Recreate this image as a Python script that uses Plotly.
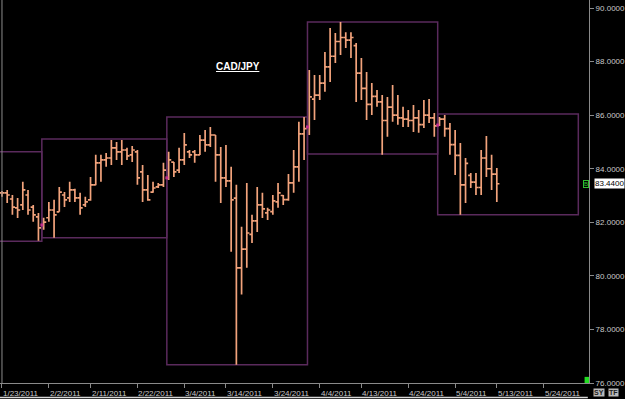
import pandas as pd
import plotly.graph_objects as go

# ---------------- data ----------------
opens = [83.10, 83.10, 82.87, 82.54, 82.65, 83.02, 82.57, 82.20, 81.90, 82.17,
         82.46, 82.39, 83.02, 82.91, 83.21, 82.91, 82.65, 82.84, 83.40, 84.22,
         84.33, 84.40, 84.78, 84.63, 84.70, 84.52, 84.63, 83.88, 83.21, 83.13,
         83.32, 83.40, 83.66, 84.25, 83.95, 84.33, 84.63, 84.63, 84.52, 85.07,
         84.89, 85.26, 84.52, 83.66, 83.55, 82.90, 80.30, 81.00, 81.55, 82.05,
         82.65, 82.35, 82.40, 82.76, 83.00, 82.85, 83.47, 84.07, 85.30, 85.56,
         86.60, 86.75, 87.20, 87.80, 88.20, 88.75, 88.90, 88.80, 88.60, 87.57,
         87.00, 86.40, 86.70, 86.50, 85.80, 86.30, 86.00, 85.90, 85.85, 85.80,
         85.90, 85.65, 86.00, 85.90, 85.63, 85.85, 85.50, 84.90, 84.50, 83.40,
         83.75, 83.50, 83.30, 84.40, 84.00, 83.80]
highs = [83.17, 83.21, 83.02, 82.91, 83.51, 83.21, 82.65, 82.35, 82.17, 82.76,
         82.84, 83.32, 83.13, 83.51, 83.25, 83.10, 82.95, 83.69, 84.52, 84.52,
         84.59, 85.07, 85.00, 85.07, 84.78, 84.85, 84.70, 84.14, 83.77, 83.51,
         83.47, 84.22, 84.63, 84.25, 84.78, 85.33, 84.70, 84.70, 85.26, 85.45,
         85.56, 85.26, 84.81, 84.89, 84.07, 83.40, 81.83, 83.47, 82.28, 83.32,
         83.10, 82.54, 83.02, 83.47, 83.02, 83.80, 84.70, 85.75, 85.93, 87.69,
         87.50, 87.50, 88.36, 89.25, 89.07, 89.48, 89.10, 89.10, 88.69, 88.13,
         87.61, 87.20, 86.94, 86.75, 86.68, 87.13, 86.75, 86.31, 86.19, 86.38,
         86.19, 86.57, 86.60, 86.08, 85.93, 86.01, 85.71, 85.45, 84.96, 84.40,
         83.84, 83.84, 84.70, 85.22, 84.52, 84.03]
lows = [82.95, 82.72, 82.28, 82.16, 82.46, 82.28, 82.02, 81.31, 81.72, 82.02,
        81.42, 82.39, 82.57, 82.76, 82.76, 82.28, 82.57, 82.80, 83.38, 83.51,
        84.07, 84.14, 84.33, 84.14, 84.33, 84.25, 83.40, 82.76, 82.80, 83.10,
        83.28, 83.32, 83.58, 83.69, 83.84, 84.14, 84.40, 84.22, 84.51, 84.63,
        84.81, 83.51, 82.72, 83.32, 80.90, 76.68, 79.30, 80.30, 81.23, 81.64,
        82.16, 82.09, 82.28, 82.54, 82.65, 82.80, 83.10, 83.51, 84.33, 85.26,
        85.82, 86.57, 86.87, 87.24, 87.95, 88.25, 88.51, 88.13, 86.49, 86.57,
        85.82, 86.01, 86.31, 84.52, 85.19, 85.75, 85.64, 85.56, 85.56, 85.37,
        85.34, 85.52, 85.71, 85.19, 85.60, 85.19, 84.52, 83.77, 82.28, 82.72,
        83.28, 83.02, 83.02, 83.69, 83.21, 82.76]
closes = [83.10, 83.02, 82.57, 82.46, 83.21, 82.46, 82.28, 81.79, 82.01, 82.46,
          82.28, 83.13, 82.84, 83.21, 82.91, 82.54, 82.76, 83.40, 84.22, 84.33,
          84.40, 84.78, 84.63, 84.70, 84.48, 84.70, 83.66, 83.21, 82.84, 83.28,
          83.40, 83.95, 84.33, 83.88, 84.33, 84.89, 84.52, 84.52, 85.07, 84.89,
          85.26, 84.52, 83.66, 83.55, 82.84, 80.30, 81.00, 81.60, 82.05, 82.65,
          82.50, 82.46, 82.80, 83.10, 82.85, 83.47, 84.07, 85.30, 85.50, 86.68,
          86.75, 87.20, 87.80, 88.20, 88.75, 88.90, 88.80, 88.90, 87.57, 87.00,
          86.40, 86.70, 86.50, 85.80, 86.30, 86.00, 85.90, 85.85, 85.80, 85.90,
          85.65, 86.00, 85.90, 85.60, 85.85, 85.50, 84.90, 84.50, 83.40, 84.20,
          83.50, 83.30, 84.40, 84.00, 83.80, 83.44]

# monthly range boxes: (first session of month, first session of next month, high, low)
box_start = ["2011-01-01", "2011-02-01", "2011-03-01", "2011-04-01", "2011-05-01"]
box_end = ["2011-02-01", "2011-03-01", "2011-04-01", "2011-05-01", "2011-06-01"]
box_high = [84.63, 85.11, 85.93, 89.48, 86.04]
box_low = [81.29, 81.42, 76.68, 84.55, 82.28]

tick_dates = ["2011-01-23", "2011-02-02", "2011-02-11", "2011-02-22", "2011-03-04",
              "2011-03-14", "2011-03-24", "2011-04-04", "2011-04-13", "2011-04-24",
              "2011-05-04", "2011-05-13", "2011-05-24"]
price_ticks = [76, 78, 80, 82, 84, 86, 88, 90]
last_price = 83.44
title_text = "CAD/JPY"

# ---------------- session calendar (Sun-Fri FX sessions) ----------------
cal = [d for d in pd.date_range("2011-01-23", "2011-06-03") if d.dayofweek != 5]
pos = {d.strftime("%Y-%m-%d"): i for i, d in enumerate(cal)}


def session_index(ds):
    d = pd.Timestamp(ds)
    if d < cal[0]:
        return -1.0
    while d.strftime("%Y-%m-%d") not in pos:
        d += pd.Timedelta(days=1)
    return pos[d.strftime("%Y-%m-%d")]


n = len(opens)
xs = list(range(n))
dates = [cal[i].strftime("%m/%d/%Y") for i in xs]

BAR = "#f2a37c"
BOX = "#5a2a5c"
AXC = "#8a8a8a"
TXT = "#c8c8c8"
FONT = "Liberation Sans, Arial, sans-serif"

fig = go.Figure()
fig.add_trace(go.Ohlc(
    x=xs, open=opens, high=highs, low=lows, close=closes,
    text=dates, hoverinfo="text+y",
    increasing=dict(line=dict(color=BAR, width=1.7)),
    decreasing=dict(line=dict(color=BAR, width=1.7)),
    tickwidth=0.5, showlegend=False,
))

shapes = []
mx, my = [], []
for s, e, h, l in zip(box_start, box_end, box_high, box_low):
    x0 = session_index(s) - 0.35
    x1 = session_index(e) - 0.35
    shapes.append(dict(type="rect", xref="x", yref="y", x0=x0, x1=x1, y0=l, y1=h,
                       line=dict(color=BOX, width=1.5), fillcolor="rgba(0,0,0,0)",
                       layer="below"))
    si = session_index(s)
    if 0 <= si < n:
        mx.append(x0)
        my.append(opens[int(si)])

fig.add_trace(go.Scatter(x=mx, y=my, mode="markers",
                         marker=dict(color="#c0308c", size=3, symbol="square"),
                         hoverinfo="skip", showlegend=False))

# cursor line at the first session
shapes.append(dict(type="line", xref="x", yref="paper", x0=0, x1=0, y0=0, y1=1,
                   line=dict(color="#8c8c8c", width=1)))
# bottom border line of the window
shapes.append(dict(type="line", xref="paper", yref="paper", x0=-0.01, x1=0.998,
                   y0=-0.038, y1=-0.038, line=dict(color="#d8d8d8", width=1.5)))
# green corner marker
shapes.append(dict(type="rect", xref="paper", yref="paper", x0=0.9925, x1=1.0,
                   y0=0.0, y1=0.016, line=dict(width=0), fillcolor="#22dd22"))

tick_idx = [session_index(t) for t in tick_dates]
tick_txt = [f"{pd.Timestamp(t).month}/{pd.Timestamp(t).day}/{pd.Timestamp(t).year}"
            for t in tick_dates]

annotations = []
for ti, tt in zip(tick_idx, tick_txt):
    annotations.append(dict(x=ti, y=0, xref="x", yref="paper", yshift=-4,
                            text=tt, showarrow=False, xanchor="left", yanchor="top",
                            xshift=-1, font=dict(size=8, color=TXT, family=FONT)))

annotations.append(dict(x=0.404, y=0.845, xref="paper", yref="paper",
                        text="<b><u>" + title_text + "</u></b>", showarrow=False,
                        font=dict(size=10, color="#ffffff", family=FONT)))
annotations.append(dict(x=1.0, y=last_price, xref="paper", yref="y", xshift=5,
                        text=f"{last_price:.4f}", showarrow=False, xanchor="left",
                        bgcolor="#ffffff", borderpad=0,
                        font=dict(size=8, color="#000000", family=FONT)))
annotations.append(dict(x=1.0, y=last_price, xref="paper", yref="y", xshift=-3,
                        text="B", showarrow=False, xanchor="center",
                        bordercolor="#2fbf2f", borderwidth=1, borderpad=0,
                        font=dict(size=6, color="#2fbf2f", family=FONT)))
annotations.append(dict(x=1.0, y=0, xref="paper", yref="paper", xshift=4, yshift=-5,
                        text="<b>SY</b>", showarrow=False, bgcolor="#b8b8b8",
                        borderpad=0, xanchor="left", yanchor="top",
                        font=dict(size=7, color="#202020", family=FONT)))
annotations.append(dict(x=1.0, y=0, xref="paper", yref="paper", xshift=19, yshift=-5,
                        text="<b>TF</b>", showarrow=False, bgcolor="#b8b8b8",
                        borderpad=0, xanchor="left", yanchor="top",
                        font=dict(size=7, color="#202020", family=FONT)))

fig.update_layout(
    width=625, height=399,
    margin=dict(l=0, r=36, t=0, b=16),
    paper_bgcolor="#000000", plot_bgcolor="#000000",
    shapes=shapes, annotations=annotations,
    showlegend=False,
    xaxis=dict(range=[-0.38, 112.7], rangeslider=dict(visible=False),
               showgrid=False, zeroline=False, showline=True, linecolor=AXC,
               linewidth=1, tickvals=tick_idx, ticktext=[""] * len(tick_idx),
               ticks="outside", ticklen=4, tickcolor=AXC),
    yaxis=dict(range=[76.0, 90.3], side="right", showgrid=False, zeroline=False,
               showline=True, linecolor=AXC, linewidth=1,
               tickvals=price_ticks, ticktext=[f"{v:.4f}" for v in price_ticks],
               ticks="outside", ticklen=4, tickcolor=AXC,
               tickfont=dict(size=8, color=TXT, family=FONT)),
)

fig.write_html("out.html")
